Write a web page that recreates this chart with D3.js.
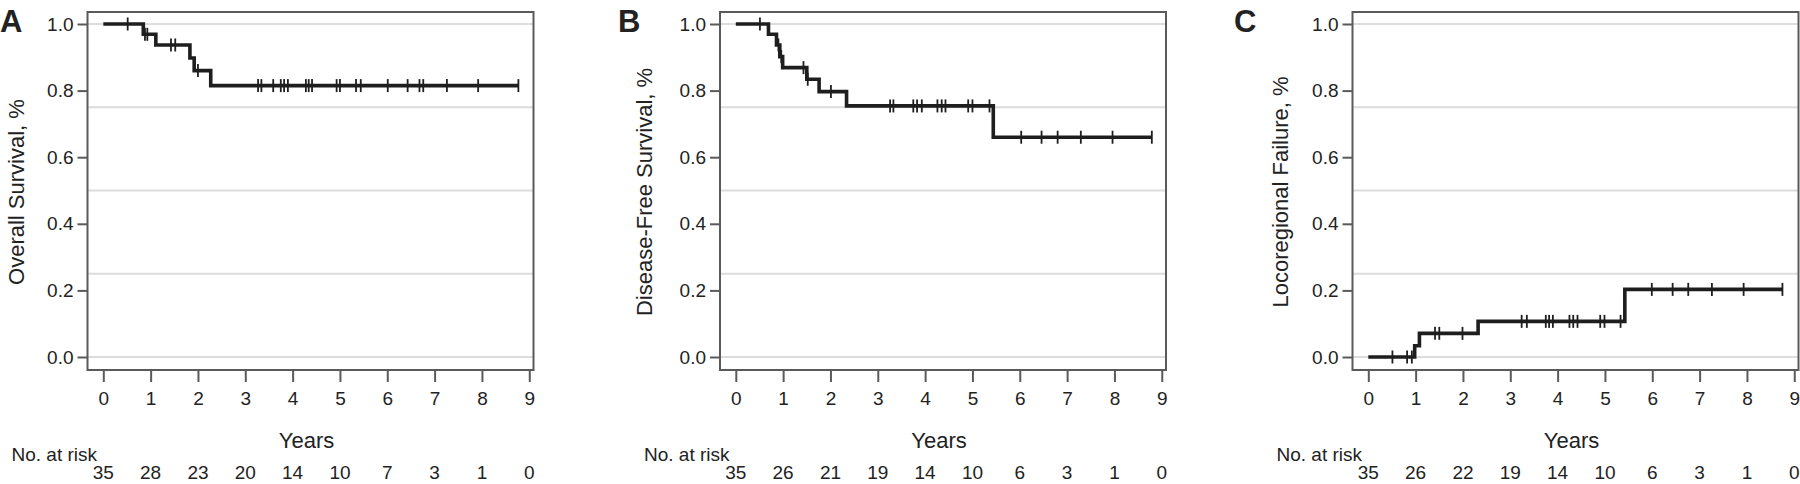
<!DOCTYPE html>
<html>
<head>
<meta charset="utf-8">
<script src="https://cdn.jsdelivr.net/npm/d3@7"></script>
<style>
  html, body { margin: 0; padding: 0; background: #fff; }
  svg { display: block; }
  text { font-family: "Liberation Sans", Arial, sans-serif; fill: #222; }
</style>
</head>
<body>
<svg id="chart" width="1800" height="484"></svg>
<script>
// ---------------- DATA ----------------
const yearTicks = [0, 1, 2, 3, 4, 5, 6, 7, 8, 9];
const yTickValues = [0, 0.2, 0.4, 0.6, 0.8, 1.0];
const gridValues = [0, 0.25, 0.5, 0.75, 1.0];

const panelLetters = ["A", "B", "C"];
const yTitles = ["Overall Survival, %", "Disease-Free Survival, %", "Locoregional Failure, %"];

// Overall survival (A): step times and levels
const osTimes  = [0, 0.845, 1.11, 1.83, 1.92, 2.27, 8.77];
const osLevels = [1.0, 0.969, 0.937, 0.898, 0.86, 0.815, 0.815];
const osCensor = [0.515, 0.88, 0.93, 1.43, 1.52, 2.0, 3.27, 3.34, 3.59, 3.75, 3.82, 3.9,
                  4.28, 4.34, 4.41, 4.93, 5.0, 5.34, 5.44, 6.01, 6.43, 6.68, 6.76, 7.26, 7.92, 8.77];
const osRisk = [35, 28, 23, 20, 14, 10, 7, 3, 1, 0];

// Disease-free survival (B)
const dfsTimes  = [0, 0.69, 0.86, 0.93, 0.99, 1.5, 1.76, 2.34, 5.44, 8.79];
const dfsLevels = [1.0, 0.969, 0.937, 0.902, 0.869, 0.834, 0.797, 0.754, 0.66, 0.66];
const dfsCensor = [0.51, 0.9, 0.96, 1.43, 1.52, 2.01, 3.26, 3.33, 3.75, 3.83, 3.93,
                   4.26, 4.35, 4.43, 4.91, 5.0, 5.36, 6.03, 6.46, 6.8, 7.29, 7.96, 8.79];
const dfsRisk = [35, 26, 21, 19, 14, 10, 6, 3, 1, 0];

// Locoregional failure (C)
const lrfTimes  = [0, 0.98, 1.08, 2.32, 5.42, 8.75];
const lrfLevels = [0, 0.034, 0.071, 0.107, 0.203, 0.203];
const lrfCensor = [0.51, 0.82, 0.92, 1.41, 1.5, 1.99, 3.24, 3.35, 3.75, 3.82, 3.9,
                   4.25, 4.33, 4.42, 4.9, 4.99, 5.33, 5.99, 6.43, 6.76, 7.26, 7.93, 8.75];
const lrfRisk = [35, 26, 22, 19, 14, 10, 6, 3, 1, 0];

// ---------------- LAYOUT ----------------
const panels = [
  { times: osTimes,  levels: osLevels,  censor: osCensor,  risk: osRisk,  left: 87.5,   letterX: 0,    titleX: -71 },
  { times: dfsTimes, levels: dfsLevels, censor: dfsCensor, risk: dfsRisk, left: 720,    letterX: 618,  titleX: -76 },
  { times: lrfTimes, levels: lrfLevels, censor: lrfCensor, risk: lrfRisk, left: 1352.5, letterX: 1234, titleX: -72 }
];
const frameTop = 12, frameW = 446, frameH = 358;

const x = d3.scaleLinear().domain([0, 9]).range([15.8, 15.8 + 9 * 47.33]);
const y = d3.scaleLinear().domain([0, 1]).range([345, 12]);

const svg = d3.select("#chart");

panels.forEach((p, i) => {
  const g = svg.append("g").attr("transform", `translate(${p.left},${frameTop})`);

  // gridlines
  g.selectAll("line.grid").data(gridValues).enter().append("line")
    .attr("class", "grid")
    .attr("x1", 0).attr("x2", frameW)
    .attr("y1", d => y(d)).attr("y2", d => y(d))
    .attr("stroke", "#dcdcdc").attr("stroke-width", 2);

  // frame
  g.append("rect").attr("x", 0).attr("y", 0).attr("width", frameW).attr("height", frameH)
    .attr("fill", "none").attr("stroke", "#5a5a5a").attr("stroke-width", 2);

  // y axis
  const ya = g.append("g").call(
    d3.axisLeft(y).tickValues(yTickValues).tickFormat(d3.format(".1f")).tickSize(10).tickPadding(4)
  );
  ya.select(".domain").remove();
  ya.selectAll(".tick line").attr("stroke", "#5a5a5a").attr("stroke-width", 2);
  ya.selectAll(".tick text").attr("font-size", 19).attr("fill", "#222")
    .attr("font-family", "Liberation Sans, Arial, sans-serif");

  // x axis
  const xa = g.append("g").attr("transform", `translate(0,${frameH})`).call(
    d3.axisBottom(x).tickValues(yearTicks).tickFormat(d3.format("d")).tickSize(12).tickPadding(10)
  );
  xa.select(".domain").remove();
  xa.selectAll(".tick line").attr("stroke", "#5a5a5a").attr("stroke-width", 2);
  xa.selectAll(".tick text").attr("font-size", 19).attr("fill", "#222")
    .attr("font-family", "Liberation Sans, Arial, sans-serif");

  // step curve
  const pts = p.times.map((t, k) => [t, p.levels[k]]);
  const line = d3.line().x(d => x(d[0])).y(d => y(d[1])).curve(d3.curveStepAfter);
  g.append("path").attr("d", line(pts)).attr("fill", "none")
    .attr("stroke", "#1e1e1e").attr("stroke-width", 3.6).attr("stroke-linejoin", "miter");

  // censor marks
  const levelAt = t => {
    let v = p.levels[0];
    for (let k = 0; k < p.times.length; k++) { if (p.times[k] <= t) v = p.levels[k]; }
    return v;
  };
  g.selectAll("line.censor").data(p.censor).enter().append("line")
    .attr("class", "censor")
    .attr("x1", d => x(d)).attr("x2", d => x(d))
    .attr("y1", d => y(levelAt(d)) - 6.5).attr("y2", d => y(levelAt(d)) + 6.5)
    .attr("stroke", "#1e1e1e").attr("stroke-width", 1.8);

  // y title
  g.append("text")
    .attr("transform", `translate(${p.titleX},${180}) rotate(-90)`)
    .attr("text-anchor", "middle").attr("dy", "0.36em")
    .attr("font-size", 22).text(yTitles[i]);

  // x title
  g.append("text").attr("x", frameW / 2 - 4).attr("y", 448 - frameTop)
    .attr("text-anchor", "middle").attr("font-size", 22).text("Years");

  // No. at risk
  g.append("text").attr("x", -76).attr("y", 461 - frameTop)
    .attr("font-size", 19).text("No. at risk");
  g.selectAll("text.risk").data(p.risk).enter().append("text")
    .attr("class", "risk")
    .attr("x", (d, k) => x(yearTicks[k])).attr("y", 479 - frameTop)
    .attr("text-anchor", "middle").attr("font-size", 19).text(d => d);

  // panel letter
  svg.append("text").attr("x", p.letterX).attr("y", 32)
    .attr("font-size", 31).attr("font-weight", "bold").text(panelLetters[i]);
});
</script>
</body>
</html>
